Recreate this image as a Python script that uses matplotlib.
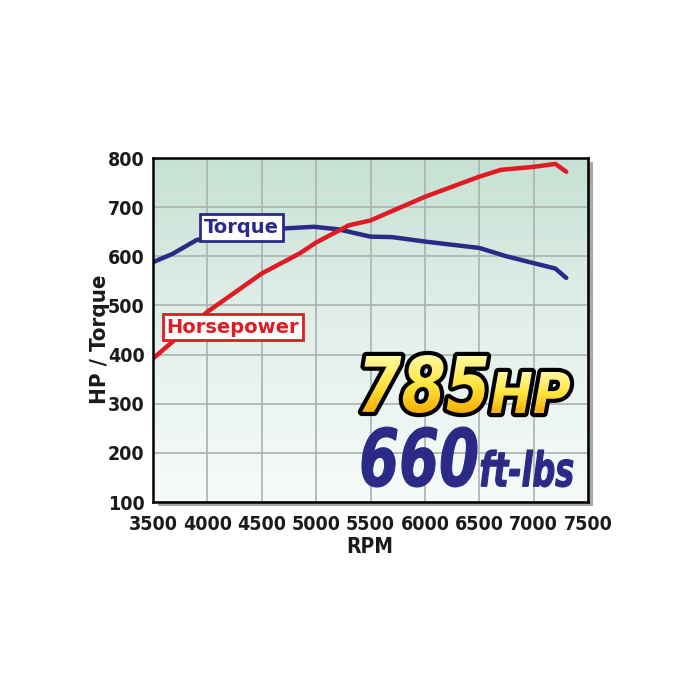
import numpy as np
import matplotlib
matplotlib.use("Agg")
import matplotlib.pyplot as plt
import matplotlib.transforms as mtransforms
from matplotlib.textpath import TextPath
from matplotlib.font_manager import FontProperties
from matplotlib.patches import PathPatch
from matplotlib.colors import LinearSegmentedColormap

# dati
rpm_torque = [3500, 3680, 3900, 4300, 4730, 4980, 5200, 5500, 5700, 6000, 6500, 6750, 7200, 7300]
torque = [588, 605, 633, 650, 657, 660, 655, 640, 639, 630, 617, 600, 575, 556]

rpm_hp = [3500, 4000, 4500, 4850, 5000, 5300, 5500, 6000, 6500, 6700, 7000, 7200, 7300]
hp = [392, 487, 565, 606, 628, 663, 673, 721, 762, 776, 782, 788, 772]

x_ticks = [3500, 4000, 4500, 5000, 5500, 6000, 6500, 7000, 7500]
y_ticks = [100, 200, 300, 400, 500, 600, 700, 800]

peak_hp = "785"
peak_tq = "660"

BLU = "#2b2a86"
ROSSO = "#e01b24"

cond = FontProperties(family="DejaVu Sans", weight="bold", stretch="condensed", size=14)

fig = plt.figure(figsize=(7, 7), dpi=100)
fig.patch.set_facecolor("white")

# ombra del riquadro
ombra = fig.add_axes([158 / 700, 1 - 506 / 700, 435 / 700, 344 / 700])
ombra.set_facecolor("#a8a8a8")
ombra.set_xticks([])
ombra.set_yticks([])
for s in ombra.spines.values():
    s.set_visible(False)

ax = fig.add_axes([153 / 700, 1 - 502 / 700, 435 / 700, 344 / 700])
ax.set_xlim(3500, 7500)
ax.set_ylim(100, 800)

# sfondo sfumato verde -> bianco
sfondo = LinearSegmentedColormap.from_list("sf", ["#f7fbf9", "#e3f0ea", "#c6e1d4"])
grad = np.linspace(0, 1, 256).reshape(-1, 1)
ax.imshow(grad, cmap=sfondo, origin="lower", aspect="auto",
          extent=[3500, 7500, 100, 800], zorder=0)

ax.set_xticks(x_ticks)
ax.set_yticks(y_ticks)
ax.grid(True, color="#a9b3ad", linewidth=1.2, zorder=1)
ax.tick_params(length=0)
ax.tick_params(axis="x", pad=9)
ax.tick_params(axis="y", pad=6)
for lab in ax.get_xticklabels() + ax.get_yticklabels():
    lab.set_fontproperties(cond)
    lab.set_color("#1a1a1a")
for s in ax.spines.values():
    s.set_linewidth(1.8)
    s.set_color("black")
    s.set_zorder(5)

ax.plot(rpm_torque, torque, color=BLU, linewidth=3.2, zorder=3, solid_capstyle="round")
ax.plot(rpm_hp, hp, color=ROSSO, linewidth=3.2, zorder=3, solid_capstyle="round")

ax.text(4317, 659, "Torque", color=BLU, fontsize=14, fontweight="bold",
        ha="center", va="center", zorder=4,
        bbox=dict(boxstyle="square,pad=0.2", facecolor="white", edgecolor=BLU, linewidth=2))
ax.text(4234, 456, "Horsepower", color=ROSSO, fontsize=14, fontweight="bold",
        ha="center", va="center", zorder=4,
        bbox=dict(boxstyle="square,pad=0.2", facecolor="white", edgecolor=ROSSO, linewidth=2))

fig.text(100 / 700, 1 - 339 / 700, "HP / Torque", rotation=90, ha="center", va="center",
         fontproperties=FontProperties(family="DejaVu Sans", weight="bold", stretch="condensed", size=16),
         color="#1a1a1a")
fig.text(370 / 700, 1 - 547 / 700, "RPM", ha="center", va="center",
         fontproperties=FontProperties(family="DejaVu Sans", weight="bold", stretch="condensed", size=15),
         color="#1a1a1a")

# scritte grandi: livello sovrapposto in pixel
top = fig.add_axes([0, 0, 1, 1])
top.set_xlim(0, 700)
top.set_ylim(700, 0)
top.axis("off")
top.patch.set_alpha(0)

fp = FontProperties(family="DejaVu Sans", weight="bold", style="italic")


def scritta(testo, x0, x1, y0, y1):
    tp = TextPath((0, 0), testo, size=1, prop=fp)
    bb = tp.get_extents()
    tr = (mtransforms.Affine2D()
          .translate(-bb.x0, -bb.y0)
          .scale((x1 - x0) / bb.width, -(y1 - y0) / bb.height)
          .translate(x0, y1))
    return tp, tr + top.transData


giallo = LinearSegmentedColormap.from_list("gi", ["#fffbb0", "#ffe640", "#f7a800"])
for testo, box in [(peak_hp, (362, 487, 355, 413)), ("HP", (491, 570, 372, 413))]:
    tp, tr = scritta(testo, *box)
    top.add_patch(PathPatch(tp, transform=tr, facecolor="none", edgecolor="black",
                            linewidth=6, joinstyle="round", zorder=6))
    fondo = PathPatch(tp, transform=tr, facecolor="none", edgecolor="none")
    top.add_patch(fondo)
    im = top.imshow(np.linspace(0, 1, 128).reshape(-1, 1), cmap=giallo, aspect="auto",
                    extent=[box[0] - 5, box[1] + 5, box[3] + 3, box[2] - 3],
                    origin="upper", zorder=7)
    im.set_clip_path(fondo)

for testo, box in [(peak_tq, (362, 477, 427, 487)), ("ft-lbs", (481, 573, 450, 487))]:
    tp, tr = scritta(testo, *box)
    top.add_patch(PathPatch(tp, transform=tr, facecolor=BLU, edgecolor=BLU,
                            linewidth=0.8, zorder=6))

top.set_xlim(0, 700)
top.set_ylim(700, 0)

fig.savefig("out.png", dpi=100)
